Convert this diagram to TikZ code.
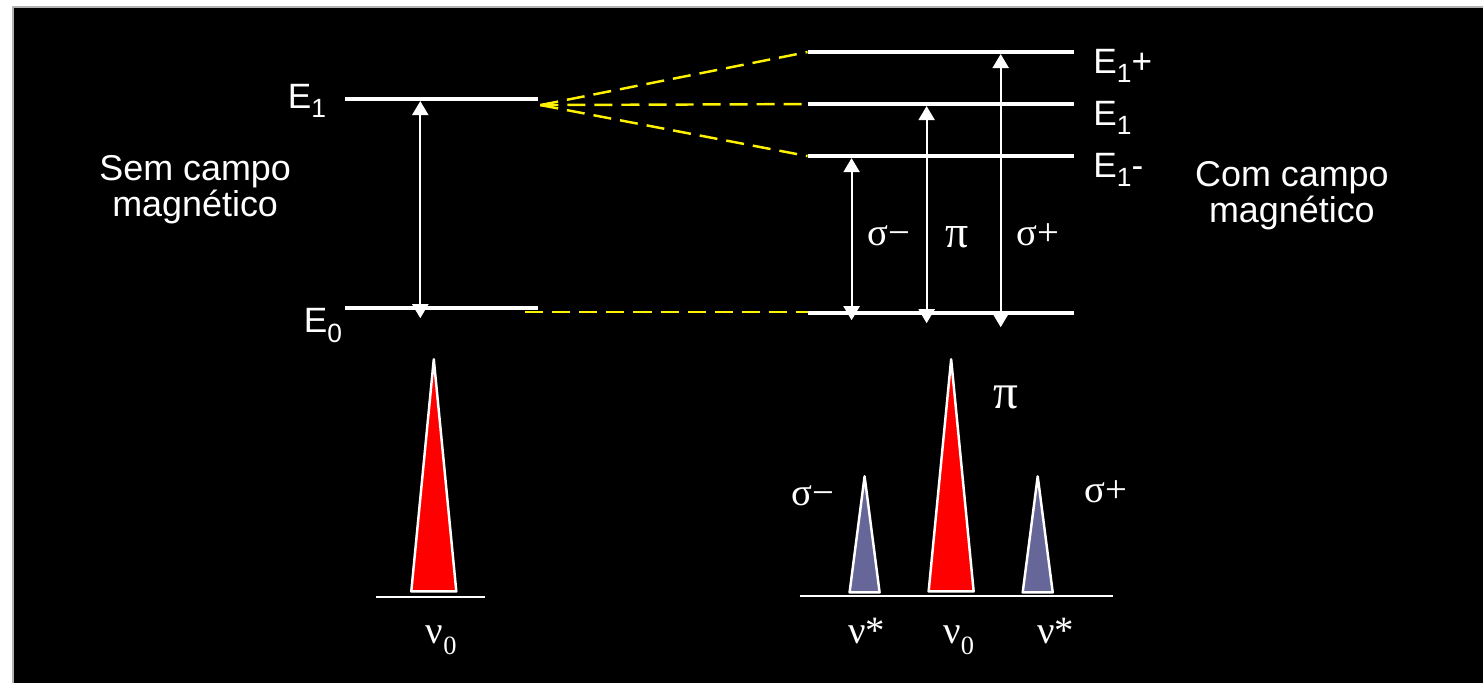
\documentclass[tikz,border=0pt]{standalone}
\usepackage{fontspec}
\setmainfont{Liberation Sans}
\newfontfamily\greekfont{Liberation Serif}
\usetikzlibrary{positioning, arrows.meta}

\newcommand{\lowidx}[1]{\raisebox{-0.28em}{\fontsize{7.5}{7.5}\selectfont #1}}

\begin{document}
\begin{tikzpicture}[x=0.01cm, y=-0.01cm, line join=round, line cap=butt,
    level/.style={white, line width=1.2pt},
    trans/.style={white, line width=0.6pt,
        {Triangle[width=1.6mm, length=1.4mm]}-{Triangle[width=1.6mm, length=1.4mm]}},
    split/.style={splityellow, line width=0.7pt, dash pattern=on 1.8mm off 0.9mm},
    elbl/.style={text=white, font=\fontsize{10}{10}\selectfont, inner sep=0pt, anchor=base west},
    glbl/.style={text=white, font=\greekfont\fontsize{11}{11}\selectfont, inner sep=0pt, anchor=base},
    peak/.style={draw=white, line width=0.7pt}]
\colorlet{splityellow}{yellow}
\definecolor{peakblue}{RGB}{102,102,153}

% background
\useasboundingbox (0,0) rectangle (1482,682);
\fill[black] (13,7) rectangle (1495,695);
\draw[gray!60, line width=0.4pt] (13,695) -- (13,7) -- (1495,7);

% levels without field
\coordinate (E1l-w) at (345,99);
\coordinate (E1l-e) at (538,99);
\coordinate (E0l-w) at (345,308);
\coordinate (E0l-e) at (538,308);

% levels with field
\coordinate (E1p-w) at (807,52);
\coordinate (E1p-e) at (1073,52);
\coordinate (E1r-w) at (807,104);
\coordinate (E1r-e) at (1073,104);
\coordinate (E1m-w) at (807,156);
\coordinate (E1m-e) at (1073,156);
\coordinate (E0r-w) at (807,313);
\coordinate (E0r-e) at (1073,313);

\draw[level] (E1l-w) -- (E1l-e);
\draw[level] (E0l-w) -- (E0l-e);
\draw[level] (E1p-w) -- (E1p-e);
\draw[level] (E1r-w) -- (E1r-e);
\draw[level] (E1m-w) -- (E1m-e);
\draw[level] (E0r-w) -- (E0r-e);

% splitting
\coordinate (fan) at (540,105);
\coordinate (E0d) at (525,312);
\draw[split] (fan) -- (E1p-w);
\draw[split] (fan) -- (E1r-w);
\draw[split] (fan) -- (E1m-w);
\draw[split] (E0d) -- (E0d -| E0r-w);

% transitions
\coordinate (t0-lo) at (420,318);
\coordinate (t0-hi) at (420,101);
\coordinate (sm-lo) at (851,320);
\coordinate (sm-hi) at (851,158);
\coordinate (pi-lo) at (926,323);
\coordinate (pi-hi) at (926,106);
\coordinate (sp-lo) at (1000,327);
\coordinate (sp-hi) at (1000,54);
\draw[trans] (t0-lo) -- (t0-hi);
\draw[trans] (sm-lo) -- (sm-hi);
\draw[trans] (pi-lo) -- (pi-hi);
\draw[trans] (sp-lo) -- (sp-hi);

% level labels
\node[elbl] (lE1l) at (287,108) {E\lowidx{1}};
\node[elbl] (lE0l) at (303,332) {E\lowidx{0}};
\node[elbl] (lE1p) at (1092,73) {E\lowidx{1}+};
\node[elbl] (lE1r) at (1092,125) {E\lowidx{1}};
\node[elbl] (lE1m) at (1092,177) {E\lowidx{1}-};

\node[text=white, align=center, font=\fontsize{10.2}{10.2}\selectfont] (nofield) at (195,190) {Sem campo\\magnético};
\node[text=white, align=center, font=\fontsize{10.2}{10.2}\selectfont] (field) at (1291,196) {Com campo\\magnético};

\node[glbl] (lsm) at (888,245) {σ−};
\node[glbl, font=\greekfont\fontsize{13}{13}\selectfont] (lpi) at (956,247) {π};
\node[glbl] (lsp) at (1037,245) {σ+};

% spectra
\coordinate (bl-w) at (376,597);
\coordinate (bl-e) at (485,597);
\coordinate (br-w) at (799,596);
\coordinate (br-e) at (1112,596);
\draw[white, line width=0.6pt] (bl-w) -- (bl-e);
\draw[white, line width=0.6pt] (br-w) -- (br-e);

\filldraw[peak, fill=red] (411,591) -- (433.5,359) -- (456,591) -- cycle;
\filldraw[peak, fill=peakblue] (849,592) -- (864,476) -- (879,592) -- cycle;
\filldraw[peak, fill=red] (928,591) -- (950.5,359) -- (973,591) -- cycle;
\filldraw[peak, fill=peakblue] (1022,592) -- (1037,476) -- (1052,592) -- cycle;

\node[glbl, font=\greekfont\fontsize{14}{14}\selectfont] (spi) at (1005,408) {π};
\node[glbl] (ssm) at (812,505) {σ−};
\node[glbl] (ssp) at (1105,502) {σ+};

\node[glbl] (nu0l) at (441,643) {ν\lowidx{0}};
\node[glbl] (nusl) at (866,643) {ν*};
\node[glbl] (nu0r) at (958,643) {ν\lowidx{0}};
\node[glbl] (nusr) at (1055,643) {ν*};
\end{tikzpicture}
\end{document}
